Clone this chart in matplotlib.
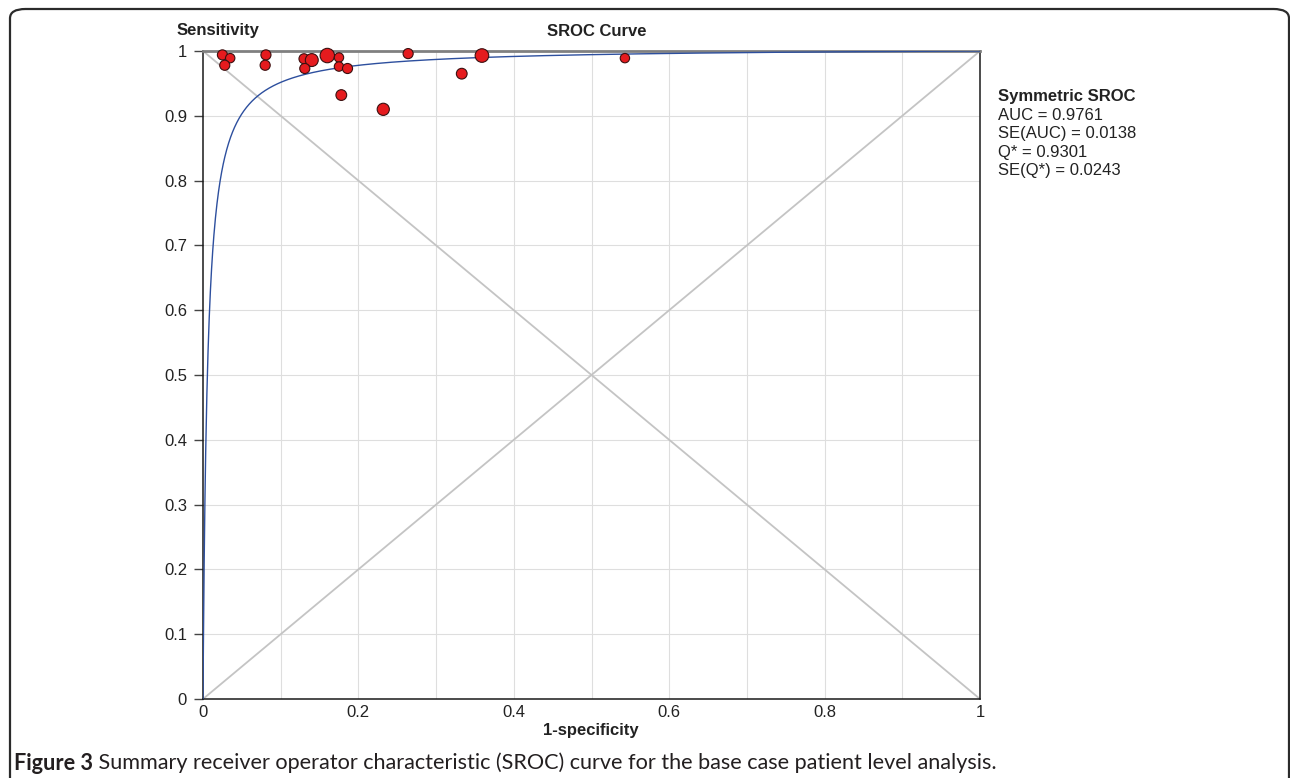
import matplotlib
matplotlib.use("Agg")
import matplotlib.pyplot as plt
import numpy as np
from matplotlib.patches import FancyBboxPatch

plt.rcParams['font.family'] = ['Liberation Sans', 'DejaVu Sans']

# study points (1-specificity, sensitivity, relative weight)
fpr = [0.025, 0.035, 0.028, 0.081, 0.080, 0.130, 0.140, 0.131, 0.160,
       0.175, 0.175, 0.186, 0.178, 0.232, 0.264, 0.333, 0.359, 0.543]
sens = [0.994, 0.989, 0.978, 0.994, 0.978, 0.988, 0.986, 0.973, 0.993,
        0.990, 0.976, 0.973, 0.932, 0.910, 0.996, 0.965, 0.993, 0.989]
weight = [22, 19, 22, 22, 22, 22, 36, 22, 45,
          19, 19, 22, 25, 32, 22, 25, 40, 19]

# summary statistics shown in the legend
auc, se_auc, q_star, se_q = 0.9761, 0.0138, 0.9301, 0.0243

y_ticks = [0, 0.1, 0.2, 0.3, 0.4, 0.5, 0.6, 0.7, 0.8, 0.9, 1]
y_labels = ["0", "0.1", "0.2", "0.3", "0.4", "0.5", "0.6", "0.7", "0.8", "0.9", "1"]
x_ticks = [0, 0.2, 0.4, 0.6, 0.8, 1]
x_labels = ["0", "0.2", "0.4", "0.6", "0.8", "1"]

W, H = 1290, 778
fig = plt.figure(figsize=(W / 100, H / 100), dpi=100)
ax = fig.add_axes([203 / W, 1 - 699 / H, 777 / W, 648 / H])

# rounded frame around the figure
frame = FancyBboxPatch((10 / W, -0.05), (1289 - 10) / W, (H - 9) / H + 0.05,
                       boxstyle="round,pad=0,rounding_size=0.012",
                       transform=fig.transFigure, fill=False,
                       edgecolor="#2b2b2b", linewidth=1.6)
fig.patches.append(frame)

# grid and diagonals
for v in np.arange(1, 10) / 10:
    ax.axvline(v, color="#dedede", lw=0.8, zorder=0)
    ax.axhline(v, color="#dedede", lw=0.8, zorder=0)
ax.plot([0, 1], [0, 1], color="#c4c4c4", lw=1.3, zorder=1)
ax.plot([0, 1], [1, 0], color="#c4c4c4", lw=1.3, zorder=1)

# symmetric SROC curve (Moses-Littenberg with b = 0, from Q*)
a = 2 * np.log(q_star / (1 - q_star))
xc = np.linspace(1e-6, 1, 2000)
yc = 1 / (1 + np.exp(-a) * (1 - xc) / xc)
ax.plot(np.r_[0, xc], np.r_[0, yc], color="#2d4f9e", lw=1.0, zorder=3)

# study points
ax.scatter(fpr, sens, s=np.array(weight) * 2.4, color="#e51b1e",
           edgecolor="#3a1010", linewidth=0.8, zorder=6, clip_on=False)

ax.set_xlim(0, 1)
ax.set_ylim(0, 1)
ax.set_yticks(y_ticks)
ax.set_yticklabels(y_labels)
ax.set_xticks(x_ticks)
ax.set_xticklabels(x_labels)
ax.tick_params(axis="y", length=6.5, width=1, color="#444444", pad=5,
               labelsize=12, labelcolor="#222222")
ax.tick_params(axis="x", length=0, pad=4, labelsize=12, labelcolor="#222222")
for side in ["left", "bottom", "right"]:
    ax.spines[side].set_color("#1a1a1a")
    ax.spines[side].set_linewidth(1.1)
ax.spines["top"].set_color("#808080")
ax.spines["top"].set_linewidth(2)

fig.text(218 / W, 1 - 31 / H, "Sensitivity", ha="center", va="center",
         fontsize=12, fontweight="bold", color="#222222")
fig.text(597 / W, 1 - 31 / H, "SROC Curve", ha="center", va="center",
         fontsize=12, fontweight="bold", color="#222222")
fig.text(591 / W, 1 - 730 / H, "1-specificity", ha="center", va="center",
         fontsize=12, fontweight="bold", color="#222222")

# legend block
legend_lines = ["AUC = %.4f" % auc, "SE(AUC) = %.4f" % se_auc,
                "Q* = %.4f" % q_star, "SE(Q*) = %.4f" % se_q]
fig.text(998 / W, 1 - 97 / H, "Symmetric SROC", ha="left", va="center",
         fontsize=12, fontweight="bold", color="#222222")
for i, line in enumerate(legend_lines):
    fig.text(998 / W, 1 - (115 + 18.5 * i) / H, line, ha="left", va="center",
             fontsize=12, color="#222222")

# caption, sized so it runs from x=14 to about x=995
renderer = fig.canvas.get_renderer()
cap_font = ["Lato", "DejaVu Sans"]
rest = " Summary receiver operator characteristic (SROC) curve for the base case patient level analysis."
size = 13.5
t1 = fig.text(14 / W, 1 - 763 / H, "Figure 3", ha="left", va="center",
              fontsize=size, fontweight="bold", family=cap_font, color="#231f20")
t2 = fig.text(0, 1 - 763 / H, rest, ha="left", va="center",
              fontsize=size, family=cap_font, color="#231f20")
total = t1.get_window_extent(renderer).width + t2.get_window_extent(renderer).width
size = size * (995 - 14) / total
t1.set_fontsize(size)
t2.set_fontsize(size)
t2.set_x(t1.get_window_extent(renderer).x1 / W)

fig.savefig("out.png", dpi=100)
